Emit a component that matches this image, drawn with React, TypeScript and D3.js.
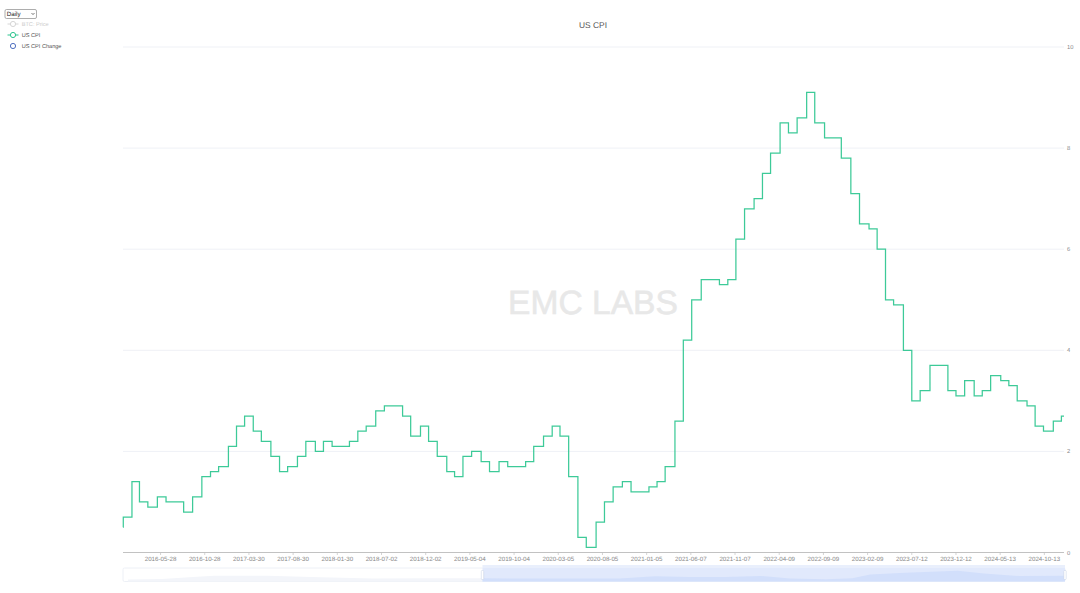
import { area as d3_area, curveStepAfter, line as d3_line, scaleLinear, scaleUtc } from "d3";
import type { FC } from "react";

// CPI release dates, each value holds until the next release
const releaseDates = [
  "2016-01-19", "2016-01-20", "2016-02-19", "2016-03-16", "2016-04-14", "2016-05-17", "2016-06-16", "2016-07-15",
  "2016-08-16", "2016-09-16", "2016-10-18", "2016-11-17", "2016-12-15", "2017-01-18", "2017-02-15", "2017-03-15",
  "2017-04-14", "2017-05-12", "2017-06-14", "2017-07-14", "2017-08-11", "2017-09-14", "2017-10-13", "2017-11-15",
  "2017-12-13", "2018-01-12", "2018-02-14", "2018-03-13", "2018-04-11", "2018-05-10", "2018-06-12", "2018-07-12",
  "2018-08-10", "2018-09-13", "2018-10-11", "2018-11-14", "2018-12-12", "2019-01-11", "2019-02-13", "2019-03-12",
  "2019-04-10", "2019-05-10", "2019-06-12", "2019-07-11", "2019-08-13", "2019-09-12", "2019-10-10", "2019-11-13",
  "2019-12-11", "2020-01-14", "2020-02-13", "2020-03-11", "2020-04-10", "2020-05-12", "2020-06-10", "2020-07-14",
  "2020-08-12", "2020-09-11", "2020-10-13", "2020-11-12", "2020-12-10", "2021-01-13", "2021-02-10", "2021-03-10",
  "2021-04-13", "2021-05-12", "2021-06-10", "2021-07-13", "2021-08-11", "2021-09-14", "2021-10-13", "2021-11-10",
  "2021-12-10", "2022-01-12", "2022-02-10", "2022-03-10", "2022-04-12", "2022-05-11", "2022-06-10", "2022-07-13",
  "2022-08-10", "2022-09-13", "2022-10-13", "2022-11-10", "2022-12-13", "2023-01-12", "2023-02-14", "2023-03-14",
  "2023-04-12", "2023-05-10", "2023-06-13", "2023-07-12", "2023-08-10", "2023-09-13", "2023-10-12", "2023-11-14",
  "2023-12-12", "2024-01-11", "2024-02-13", "2024-03-12", "2024-04-10", "2024-05-15", "2024-06-12", "2024-07-11",
  "2024-08-14", "2024-09-11", "2024-10-10", "2024-11-13", "2024-12-11", "2024-12-20",
];

const cpiValues = [
  0.5, 0.7, 1.4, 1.0, 0.9, 1.1, 1.0, 1.0, 0.8, 1.1, 1.5, 1.6, 1.7, 2.1, 2.5, 2.7, 2.4, 2.2, 1.9, 1.6, 1.7, 1.9,
  2.2, 2.0, 2.2, 2.1, 2.1, 2.2, 2.4, 2.5, 2.8, 2.9, 2.9, 2.7, 2.3, 2.5, 2.2, 1.9, 1.6, 1.5, 1.9, 2.0, 1.8, 1.6,
  1.8, 1.7, 1.7, 1.8, 2.1, 2.3, 2.5, 2.3, 1.5, 0.3, 0.1, 0.6, 1.0, 1.3, 1.4, 1.2, 1.2, 1.3, 1.4, 1.7, 2.6, 4.2,
  5.0, 5.4, 5.4, 5.3, 5.4, 6.2, 6.8, 7.0, 7.5, 7.9, 8.5, 8.3, 8.6, 9.1, 8.5, 8.2, 8.2, 7.8, 7.1, 6.5, 6.4, 6.0,
  5.0, 4.9, 4.0, 3.0, 3.2, 3.7, 3.7, 3.2, 3.1, 3.4, 3.1, 3.2, 3.5, 3.4, 3.3, 3.0, 2.9, 2.5, 2.4, 2.6, 2.7, 2.7,
];

const xTickDates = [
  "2016-05-28", "2016-10-28", "2017-03-30", "2017-08-30", "2018-01-30", "2018-07-02", "2018-12-02",
  "2019-05-04", "2019-10-04", "2020-03-05", "2020-08-05", "2021-01-05", "2021-06-07", "2021-11-07",
  "2022-04-09", "2022-09-09", "2023-02-09", "2023-07-12", "2023-12-12", "2024-05-13", "2024-10-13",
];

const yTicks = [0, 2, 4, 6, 8, 10];

// overview strip under the chart (relative height of the data shadow)
const shadowDates = [
  "2016-02-05", "2016-06-01", "2016-10-01", "2016-12-01", "2017-06-01", "2017-12-01", "2018-06-01", "2018-12-01",
  "2019-06-01", "2019-12-01", "2020-06-01", "2020-10-01", "2021-02-01", "2021-06-01", "2021-10-01", "2022-02-01",
  "2022-05-15", "2022-09-15", "2022-12-15", "2023-02-15", "2023-06-15", "2023-12-15", "2024-03-15", "2024-07-15",
  "2024-12-20",
];
const shadowValues = [
  2, 2.5, 5, 6, 6, 4.5, 3, 3.5, 3.5, 3, 3, 3.2, 5.5, 4.7, 4.7, 5.7, 3.2, 2.4, 3.3, 7.2, 9, 11.2, 8.4, 5.7, 6,
];

const legendItems = ["BTC: Price", "US CPI", "US CPI Change"];

const parse = (d: string) => new Date(`${d}T00:00:00Z`);

const plot = { left: 123, right: 1064, top: 47, bottom: 552.5 };
const slider = { left: 123, right: 1065, top: 568, bottom: 581.5, start: 482.5 };
const font = "'Liberation Sans', Arial, sans-serif";
const green = "#2cc58f";

const App: FC = () => {
  const points = releaseDates.map((d, i) => ({ date: parse(d), value: cpiValues[i] }));

  const xScale = scaleUtc()
    .domain([parse(releaseDates[0]), parse(releaseDates[releaseDates.length - 1])])
    .range([plot.left, plot.right]);
  const yScale = scaleLinear().domain([0, 10]).range([plot.bottom, plot.top]);

  const cpiLine = d3_line<(typeof points)[number]>()
    .x((d) => xScale(d.date))
    .y((d) => yScale(d.value))
    .curve(curveStepAfter);

  const shadowX = scaleUtc()
    .domain([parse(releaseDates[0]), parse(releaseDates[releaseDates.length - 1])])
    .range([slider.left, slider.right]);
  const shadowY = scaleLinear().domain([0, 14]).range([slider.bottom, slider.top]);
  const shadowArea = d3_area<string>()
    .x((d) => shadowX(parse(d)))
    .y0(slider.bottom)
    .y1((_, i) => shadowY(shadowValues[i]));

  return (
    <svg
      width={1080}
      height={593}
      viewBox="0 0 1080 593"
      style={{ position: "absolute", left: 0, top: 0, display: "block", background: "#fff" }}
      fontFamily={font}
      textRendering="geometricPrecision"
    >
      <defs>
        <clipPath id="selected">
          <rect x={slider.start} y={560} width={slider.right - slider.start} height={30} />
        </clipPath>
        <clipPath id="unselected">
          <rect x={slider.left} y={560} width={slider.start - slider.left} height={30} />
        </clipPath>
      </defs>

      {/* watermark */}
      <text
        x={593}
        y={314}
        textAnchor="middle"
        fontSize={33.6}
        fill="#e8e8e8"
        stroke="#e8e8e8"
        strokeWidth={0.6}
      >
        EMC LABS
      </text>

      <text x={593} y={28} textAnchor="middle" fontSize={8.4} fill="#555">
        US CPI
      </text>

      {/* grid + y axis */}
      {yTicks.map((t) => (
        <g key={t}>
          {t > 0 && (
            <line x1={plot.left} x2={plot.right} y1={yScale(t)} y2={yScale(t)} stroke="#eff1f6" strokeWidth={1} />
          )}
          <text x={1067} y={yScale(t) + 2} fontSize={5.8} fill="#888">
            {t}
          </text>
        </g>
      ))}

      {/* x axis */}
      <line x1={plot.left} x2={plot.right} y1={plot.bottom} y2={plot.bottom} stroke="#c2c2c2" strokeWidth={1.2} />
      {xTickDates.map((d) => (
        <g key={d} transform={`translate(${xScale(parse(d))},0)`}>
          <line y1={plot.bottom} y2={plot.bottom + 2.5} stroke="#c2c2c2" strokeWidth={0.7} />
          <text y={561} textAnchor="middle" fontSize={6.2} fill="#888">
            {d}
          </text>
        </g>
      ))}

      <path d={cpiLine(points)!} fill="none" stroke={green} strokeWidth={1.25} strokeOpacity={0.92} />

      {/* dataZoom slider */}
      <rect
        x={slider.left}
        y={slider.top}
        width={slider.right - slider.left}
        height={slider.bottom - slider.top}
        rx={1.5}
        fill="#fff"
        stroke="#e9ecf4"
        strokeWidth={0.8}
      />
      <path d={shadowArea(shadowDates)!} fill="#f3f5fa" clipPath="url(#unselected)" />
      <rect x={slider.start} y={565} width={slider.right - slider.start} height={3} fill="#e9effc" />
      <rect
        x={slider.start}
        y={slider.top}
        width={slider.right - slider.start}
        height={slider.bottom - slider.top}
        fill="#e1e9fc"
      />
      <path d={shadowArea(shadowDates)!} fill="#d2dffb" clipPath="url(#selected)" />
      {[slider.start, slider.right].map((x) => (
        <rect key={x} x={x - 1.2} y={570.5} width={2.4} height={9} rx={0.8} fill="#fff" stroke="#c5cfe2" strokeWidth={0.5} />
      ))}

      {/* period select */}
      <rect x={5} y={9.5} width={31.5} height={9} rx={1.5} fill="#fff" stroke="#8a8a8a" strokeWidth={0.7} />
      <text x={6.8} y={16.3} fontSize={6.2} fill="#222">
        Daily
      </text>
      <path d="M31.5 13 L33 14.6 L34.5 13" fill="none" stroke="#444" strokeWidth={0.7} />

      {/* legend */}
      {legendItems.map((label, i) => {
        const y = 24 + i * 11;
        const color = i === 0 ? "#d6d6d6" : i === 1 ? green : "#4f6fc0";
        return (
          <g key={label}>
            {i < 2 && <line x1={7.5} x2={18.5} y1={y} y2={y} stroke={color} strokeWidth={1} />}
            <circle cx={13} cy={y} r={2.6} fill="#fff" stroke={color} strokeWidth={1} />
            <text x={21.7} y={y + 2} fontSize={5.6} fill={i === 0 ? "#ccc" : "#555"}>
              {label}
            </text>
          </g>
        );
      })}
    </svg>
  );
};

export default App;
